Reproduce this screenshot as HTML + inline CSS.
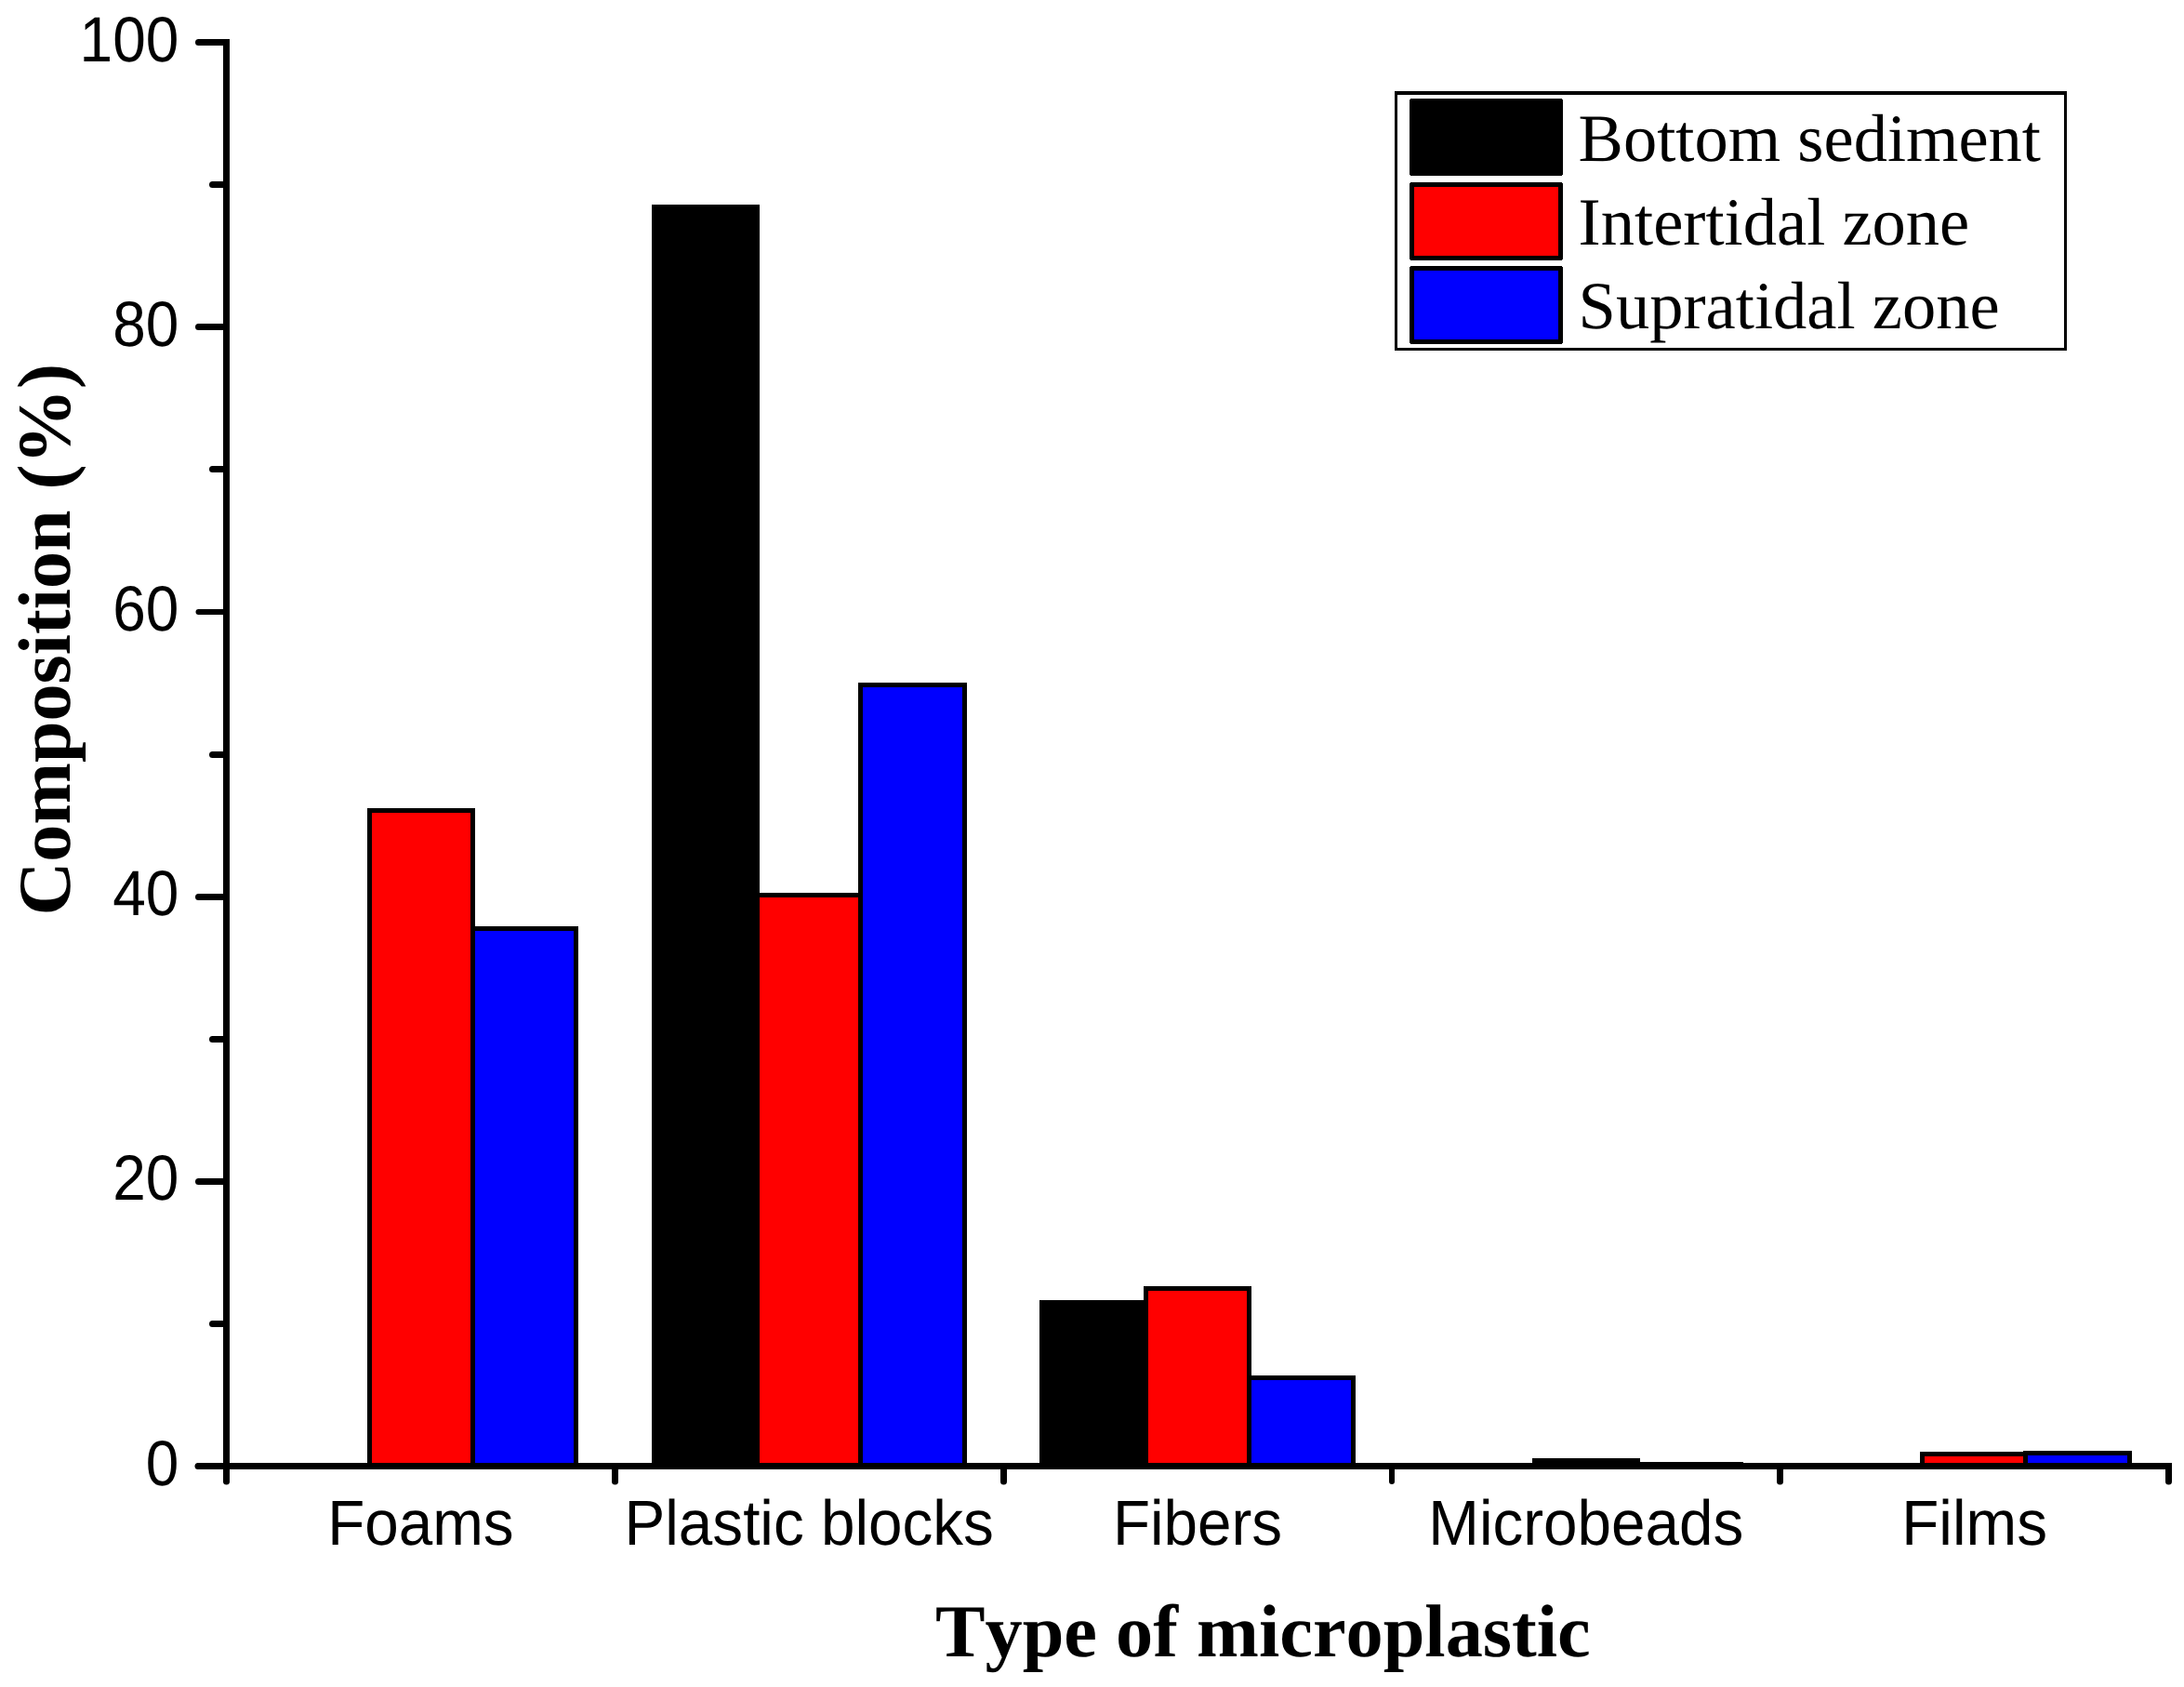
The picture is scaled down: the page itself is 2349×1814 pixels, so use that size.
<!DOCTYPE html>
<html><head><meta charset="utf-8"><title>Type of microplastic composition</title>
<style>
html,body{margin:0;padding:0;background:#fff;}
svg{display:block;}
text{font-kerning:none;font-variant-ligatures:none;text-rendering:geometricPrecision;}
.sans{font-family:"Liberation Sans",Arial,sans-serif;font-size:65.6px;fill:#000;}
.serifb{font-family:"Liberation Serif","Times New Roman",serif;font-weight:bold;font-size:80.3px;fill:#000;}
.leg{font-family:"Liberation Serif","Times New Roman",serif;font-size:72.5px;fill:#000;}
.ln{stroke:#000;stroke-width:7;fill:none;shape-rendering:crispEdges;}
.bar{stroke:#000;stroke-width:5;shape-rendering:crispEdges;stroke-linejoin:miter;}
</style></head><body>
<svg width="2349" height="1814" viewBox="0 0 2349 1814">
<rect x="0" y="0" width="2349" height="1814" fill="#fff"/>

<g>
<rect class="bar" x="397.5" y="871.5" width="111.0" height="705.0" fill="#ff0000"/>
<rect class="bar" x="508.5" y="998.5" width="111.0" height="578.0" fill="#0000ff"/>
<rect class="bar" x="703.5" y="222.5" width="111.0" height="1354.0" fill="#000000"/>
<rect class="bar" x="814.5" y="962.5" width="111.0" height="614.0" fill="#ff0000"/>
<rect class="bar" x="925.5" y="736.5" width="112.0" height="840.0" fill="#0000ff"/>
<rect class="bar" x="1120.5" y="1400.5" width="112.0" height="176.0" fill="#000000"/>
<rect class="bar" x="1232.5" y="1385.5" width="111.0" height="191.0" fill="#ff0000"/>
<rect class="bar" x="1343.5" y="1481.5" width="112.0" height="95.0" fill="#0000ff"/>
<rect class="bar" x="1650.5" y="1570.5" width="111.0" height="6.0" fill="#ff0000"/>
<rect class="bar" x="1761.5" y="1574.0" width="111.0" height="2.5" fill="#0000ff"/>
<rect class="bar" x="2067.5" y="1563.5" width="111.0" height="13.0" fill="#ff0000"/>
<rect class="bar" x="2178.5" y="1562.5" width="112.0" height="14.0" fill="#0000ff"/>
</g>
<g>
<rect x="240" y="42" width="7" height="1552" fill="#000" shape-rendering="crispEdges"/>
<circle cx="243.5" cy="1593" r="3.5" fill="#000"/>
<rect x="212" y="1573" width="2124" height="7" fill="#000" shape-rendering="crispEdges"/>
<circle cx="213" cy="1576.5" r="3.5" fill="#000"/>
<rect x="228" y="1420" width="15" height="7" fill="#000" shape-rendering="crispEdges"/><circle cx="228.5" cy="1423.5" r="3.5" fill="#000"/>
<rect x="213" y="1267" width="30" height="7" fill="#000" shape-rendering="crispEdges"/><circle cx="213.5" cy="1270.5" r="3.5" fill="#000"/>
<rect x="228" y="1114" width="15" height="7" fill="#000" shape-rendering="crispEdges"/><circle cx="228.5" cy="1117.5" r="3.5" fill="#000"/>
<rect x="213" y="961" width="30" height="7" fill="#000" shape-rendering="crispEdges"/><circle cx="213.5" cy="964.5" r="3.5" fill="#000"/>
<rect x="228" y="808" width="15" height="7" fill="#000" shape-rendering="crispEdges"/><circle cx="228.5" cy="811.5" r="3.5" fill="#000"/>
<rect x="213" y="655" width="30" height="6" fill="#000" shape-rendering="crispEdges"/><circle cx="213.5" cy="658" r="3" fill="#000"/>
<rect x="228" y="501" width="15" height="7" fill="#000" shape-rendering="crispEdges"/><circle cx="228.5" cy="504.5" r="3.5" fill="#000"/>
<rect x="213" y="348" width="30" height="7" fill="#000" shape-rendering="crispEdges"/><circle cx="213.5" cy="351.5" r="3.5" fill="#000"/>
<rect x="228" y="195" width="15" height="7" fill="#000" shape-rendering="crispEdges"/><circle cx="228.5" cy="198.5" r="3.5" fill="#000"/>
<rect x="213" y="42" width="30" height="7" fill="#000" shape-rendering="crispEdges"/><circle cx="213.5" cy="45.5" r="3.5" fill="#000"/>
<rect x="658" y="1576" width="7" height="17" fill="#000" shape-rendering="crispEdges"/><circle cx="661.5" cy="1593" r="3.5" fill="#000"/>
<rect x="1076" y="1576" width="7" height="17" fill="#000" shape-rendering="crispEdges"/><circle cx="1079.5" cy="1593" r="3.5" fill="#000"/>
<rect x="1494" y="1576" width="6" height="17" fill="#000" shape-rendering="crispEdges"/><circle cx="1497.0" cy="1593" r="3.0" fill="#000"/>
<rect x="1911" y="1576" width="7" height="17" fill="#000" shape-rendering="crispEdges"/><circle cx="1914.5" cy="1593" r="3.5" fill="#000"/>
<rect x="2329" y="1576" width="7" height="17" fill="#000" shape-rendering="crispEdges"/><circle cx="2332.5" cy="1593" r="3.5" fill="#000"/>
</g>
<g class="sans" text-anchor="end">
<text transform="translate(192.3,1596.5) scale(0.975,1.047)">0</text>
<text transform="translate(192.3,1290.3) scale(0.975,1.047)">20</text>
<text transform="translate(192.3,984.1) scale(0.975,1.047)">40</text>
<text transform="translate(192.3,677.9) scale(0.975,1.047)">60</text>
<text transform="translate(192.3,371.7) scale(0.975,1.047)">80</text>
<text transform="translate(192.3,65.5) scale(0.975,1.047)">100</text>
</g>
<g class="sans" text-anchor="middle">
<text transform="translate(452.4,1660.6) scale(1,1.043)">Foams</text>
<text transform="translate(870.2,1660.6) scale(1,1.043)">Plastic blocks</text>
<text transform="translate(1288.0,1660.6) scale(1,1.043)">Fibers</text>
<text transform="translate(1705.8,1660.6) scale(1,1.043)">Microbeads</text>
<text transform="translate(2123.6,1660.6) scale(1,1.043)">Films</text>
</g>
<text class="serifb" transform="translate(74.7,984.6) rotate(-90)" x="0" y="0"><tspan style="font-size:80.1px">Composition </tspan><tspan x="458.2" style="font-size:81.3px">(%)</tspan></text>
<text class="serifb" x="1006" y="1780.5">Type of microplastic</text>
<g>
<g fill="#000" shape-rendering="crispEdges"><rect x="1500" y="98" width="723" height="4"/><rect x="1500" y="374" width="723" height="3"/><rect x="1500" y="98" width="3" height="279"/><rect x="2220" y="98" width="3" height="279"/></g>
<rect class="bar" style="stroke-linejoin:round" x="1518.5" y="108.5" width="160" height="78" fill="#000000"/>
<text class="leg" x="1697.6" y="172.8">Bottom sediment</text>
<rect class="bar" style="stroke-linejoin:round" x="1518.5" y="198.5" width="160" height="79" fill="#ff0000"/>
<text class="leg" x="1697.6" y="262.8">Intertidal zone</text>
<rect class="bar" style="stroke-linejoin:round" x="1518.5" y="288.5" width="160" height="79" fill="#0000ff"/>
<text class="leg" x="1697.6" y="352.8">Supratidal zone</text>
</g>
</svg></body></html>
